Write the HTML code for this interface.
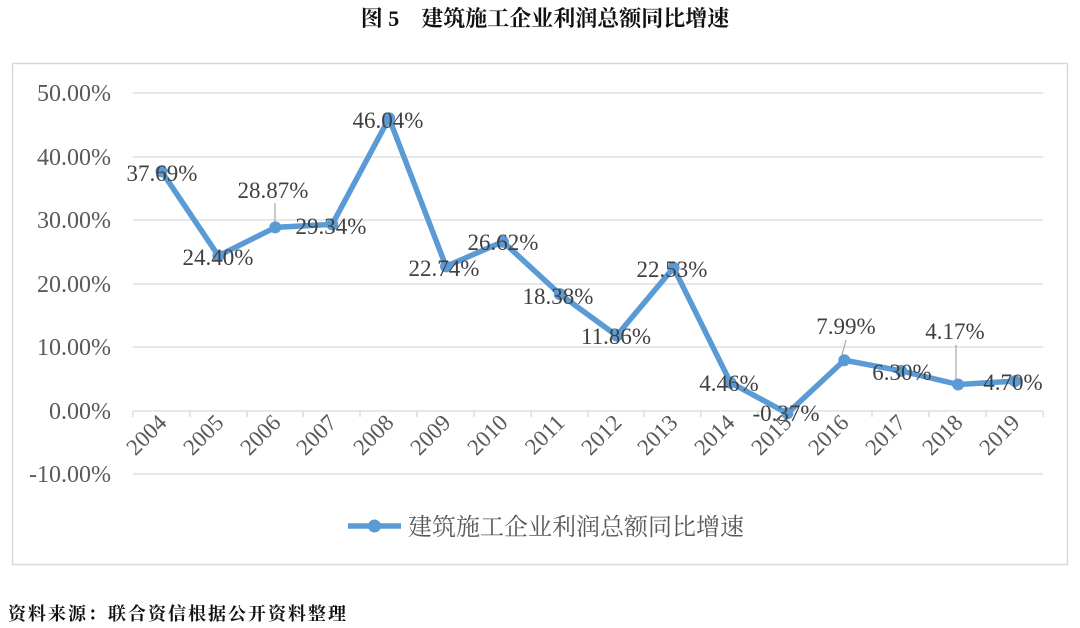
<!DOCTYPE html>
<html><head><meta charset="utf-8"><style>
body{margin:0;background:#fff;}
svg{display:block}
</style></head><body>
<svg width="1080" height="628" xmlns="http://www.w3.org/2000/svg">
<text x="545" y="26" text-anchor="middle" font-family="'Liberation Serif','Noto Serif CJK SC',serif" font-size="22" font-weight="bold" fill="#111">图 5　建筑施工企业利润总额同比增速</text>
<rect x="12.5" y="63.5" width="1055" height="501" fill="#fff" stroke="#d9d9d9" stroke-width="1.5"/>
<g stroke="#d9d9d9" stroke-width="1.3">
<line x1="133" y1="93" x2="1043" y2="93"/>
<line x1="133" y1="157" x2="1043" y2="157"/>
<line x1="133" y1="220" x2="1043" y2="220"/>
<line x1="133" y1="284" x2="1043" y2="284"/>
<line x1="133" y1="347" x2="1043" y2="347"/>
<line x1="133" y1="474" x2="1043" y2="474"/>
<line x1="133" y1="411" x2="1043" y2="411"/>
<path d="M133 411v6M190 411v6M247 411v6M303 411v6M360 411v6M417 411v6M474 411v6M531 411v6M588 411v6M644 411v6M701 411v6M758 411v6M815 411v6M872 411v6M929 411v6M986 411v6M1043 411v6"/>
</g>
<g font-family="'Liberation Serif',serif" font-size="24" fill="#595959" text-anchor="end">
<text x="111" y="101">50.00%</text><text x="111" y="165">40.00%</text><text x="111" y="228">30.00%</text><text x="111" y="292">20.00%</text><text x="111" y="355">10.00%</text><text x="111" y="419">0.00%</text><text x="111" y="482">-10.00%</text>
</g>
<g font-family="'Liberation Serif',serif" font-size="23" fill="#595959" text-anchor="end">
<text transform="translate(168,424) rotate(-45)">2004</text>
<text transform="translate(225,424) rotate(-45)">2005</text>
<text transform="translate(282,424) rotate(-45)">2006</text>
<text transform="translate(338,424) rotate(-45)">2007</text>
<text transform="translate(395,424) rotate(-45)">2008</text>
<text transform="translate(452,424) rotate(-45)">2009</text>
<text transform="translate(509,424) rotate(-45)">2010</text>
<text transform="translate(566,424) rotate(-45)">2011</text>
<text transform="translate(623,424) rotate(-45)">2012</text>
<text transform="translate(679,424) rotate(-45)">2013</text>
<text transform="translate(736,424) rotate(-45)">2014</text>
<text transform="translate(793,424) rotate(-45)">2015</text>
<text transform="translate(850,424) rotate(-45)">2016</text>
<text transform="translate(907,424) rotate(-45)">2017</text>
<text transform="translate(964,424) rotate(-45)">2018</text>
<text transform="translate(1021,424) rotate(-45)">2019</text>
</g>
<g stroke="#a6a6a6" stroke-width="1.2">
<line x1="275" y1="203" x2="275" y2="224"/>
<line x1="846" y1="340" x2="842" y2="355"/>
<line x1="956" y1="345" x2="956" y2="380"/>
</g>
<polyline fill="none" stroke="#5b9bd5" stroke-width="5.5" stroke-linejoin="round" points="161.5,171.3 218.4,255.8 275.3,227.4 332.2,224.4 389.1,118.2 446,266.4 502.9,241.7 559.8,294.1 616.7,335.6 673.6,267.7 730.5,382.6 787.4,413.4 844.3,360.2 901.2,370.9 958.1,384.5 1015,381.1"/>
<g fill="#5b9bd5">
<circle cx="161.5" cy="171.3" r="6"/><circle cx="218.4" cy="255.8" r="6"/><circle cx="275.3" cy="227.4" r="6"/><circle cx="332.2" cy="224.4" r="6"/><circle cx="389.1" cy="118.2" r="6"/><circle cx="446" cy="266.4" r="6"/><circle cx="502.9" cy="241.7" r="6"/><circle cx="559.8" cy="294.1" r="6"/><circle cx="616.7" cy="335.6" r="6"/><circle cx="673.6" cy="267.7" r="6"/><circle cx="730.5" cy="382.6" r="6"/><circle cx="787.4" cy="413.4" r="6"/><circle cx="844.3" cy="360.2" r="6"/><circle cx="901.2" cy="370.9" r="6"/><circle cx="958.1" cy="384.5" r="6"/><circle cx="1015" cy="381.1" r="6"/>
</g>
<g font-family="'Liberation Serif',serif" font-size="23" fill="#404040" text-anchor="middle">
<text x="162" y="181">37.69%</text>
<text x="218" y="265">24.40%</text>
<text x="273" y="198">28.87%</text>
<text x="331" y="234">29.34%</text>
<text x="388" y="128">46.04%</text>
<text x="444" y="276">22.74%</text>
<text x="503" y="250">26.62%</text>
<text x="558" y="304">18.38%</text>
<text x="616" y="344">11.86%</text>
<text x="672" y="277">22.53%</text>
<text x="729" y="391">4.46%</text>
<text x="786" y="421">-0.37%</text>
<text x="846" y="334">7.99%</text>
<text x="902" y="380">6.30%</text>
<text x="955" y="339">4.17%</text>
<text x="1013" y="390">4.70%</text>
</g>
<line x1="348" y1="526" x2="401" y2="526" stroke="#5b9bd5" stroke-width="5.5"/>
<circle cx="374.5" cy="526" r="6.5" fill="#5b9bd5"/>
<text x="408" y="535" font-family="'Liberation Serif','Noto Serif CJK SC',serif" font-size="24" fill="#595959">建筑施工企业利润总额同比增速</text>
<text x="8" y="620" font-family="'Liberation Serif','Noto Serif CJK SC',serif" font-size="18" font-weight="bold" fill="#111" letter-spacing="2">资料来源：联合资信根据公开资料整理</text>
</svg>
</body></html>
